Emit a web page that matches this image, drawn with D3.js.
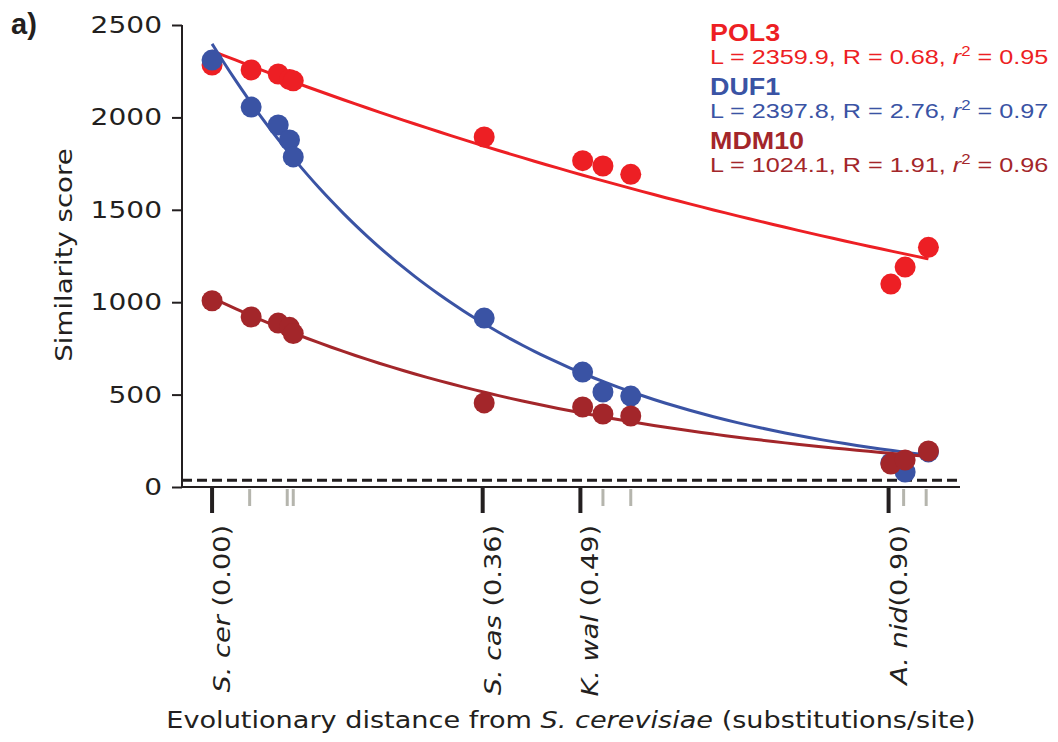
<!DOCTYPE html>
<html>
<head>
<meta charset="utf-8">
<script src="https://cdn.jsdelivr.net/npm/d3@7"></script>
<style>
  body { margin: 0; background: #fff; }
  svg { display: block; }
</style>
</head>
<body>
<div id="chart"></div>
<script>
// distances (substitutions/site) of the sampled species
let pointDist = [0, 0.052, 0.088, 0.103, 0.108, 0.362, 0.493, 0.52, 0.557, 0.903, 0.922, 0.953]

let genes = ["POL3", "DUF1", "MDM10"]
let geneColors = ["#ed1f24", "#3a53a4", "#a3262a"]
let fitL = [2359.9, 2397.8, 1024.1]
let fitR = [0.68, 2.76, 1.91]
let fitR2 = [0.95, 0.97, 0.96]

let pol3 = [2283, 2257, 2235, 2205, 2198, 1894, 1766, 1737, 1692, 1098, 1190, 1297]
let duf1 = [2310, 2056, 1959, 1878, 1786, 914, 622, 514, 492, 130, 81, 190]
let mdm10 = [1008, 920, 887, 864, 830, 455, 433, 395, 384, 124, 146, 195]
let series = [pol3, duf1, mdm10]

let majorNames = ["S. cer", "S. cas", "K. wal", "A. nid"]
let majorDist = [0, 0.36, 0.49, 0.90]
let minorDist = [0.05, 0.10, 0.108, 0.52, 0.557, 0.92, 0.95]
let yTicks = [0, 500, 1000, 1500, 2000, 2500]
let cutoff = 37

const W = 1058, H = 742
const stretch = 1.2
const font = "'DejaVu Sans', sans-serif"
const sans = "'Liberation Sans', Arial, sans-serif"

let svg = d3.select('#chart').append('svg')
    .attr('width', W)
    .attr('height', H)

let x = d3.scaleLinear().domain([-0.04, 0.995]).range([182, 960])
let y = d3.scaleLinear().domain([0, 2500]).range([487, 25])

// panel label
svg.append('text')
    .attr('x', 11).attr('y', 34)
    .attr('font-family', sans).attr('font-weight', 'bold')
    .attr('font-size', 29).attr('fill', '#231f20')
    .text('a)')

// y axis
let yAxis = svg.append('g')
    .attr('transform', `translate(${x.range()[0]},0)`)
    .call(d3.axisLeft(y).tickValues(yTicks).tickSize(10).tickFormat(''))
yAxis.select('.domain').attr('stroke', '#231f20').attr('stroke-width', 2)
    .attr('d', `M0,${y(2500)}V${y(0) + 1}`)
yAxis.selectAll('.tick line').attr('stroke', '#231f20').attr('stroke-width', 2)

yTicks.forEach(v => {
    svg.append('g')
        .attr('transform', `translate(162,${y(v) + 8}) scale(1.22,1)`)
        .append('text')
        .attr('text-anchor', 'end')
        .attr('font-family', font).attr('font-size', 23)
        .attr('fill', '#231f20')
        .text(v)
})

svg.append('g')
    .attr('transform', `translate(72,255) rotate(-90) scale(${stretch},1)`)
    .append('text')
    .attr('text-anchor', 'middle')
    .attr('font-family', font).attr('font-size', 23)
    .attr('fill', '#231f20')
    .text('Similarity score')

// x spine
svg.append('line')
    .attr('x1', x.range()[0]).attr('x2', x.range()[1])
    .attr('y1', y(0)).attr('y2', y(0))
    .attr('stroke', '#231f20').attr('stroke-width', 2)

// cutoff line
svg.append('line')
    .attr('x1', x.range()[0]).attr('x2', x.range()[1])
    .attr('y1', y(cutoff)).attr('y2', y(cutoff))
    .attr('stroke', '#231f20').attr('stroke-width', 3)
    .attr('stroke-dasharray', '10,5')

// species ticks
svg.selectAll('.minor')
    .data(minorDist).enter()
    .append('line')
    .attr('class', 'minor')
    .attr('x1', d => x(d)).attr('x2', d => x(d))
    .attr('y1', y(0) + 2).attr('y2', y(0) + 19)
    .attr('stroke', '#b5b5ad').attr('stroke-width', 3)

svg.selectAll('.major')
    .data(majorDist).enter()
    .append('line')
    .attr('class', 'major')
    .attr('x1', d => x(d)).attr('x2', d => x(d))
    .attr('y1', y(0) + 1).attr('y2', y(0) + 26)
    .attr('stroke', '#231f20').attr('stroke-width', 4)

majorDist.forEach((d, i) => {
    let t = svg.append('g')
        .attr('transform', `translate(${x(d) + 18},525) rotate(-90) scale(1.18,1)`)
        .append('text')
        .attr('text-anchor', 'end')
        .attr('font-family', font).attr('font-size', 23)
        .attr('fill', '#231f20')
    t.append('tspan').attr('font-style', 'italic').text(majorNames[i])
    t.append('tspan').text((i == 3 ? '(' : ' (') + d.toFixed(2) + ')')
})

let xl = svg.append('g')
    .attr('transform', `translate(571,728) scale(1.18,1)`)
    .append('text')
    .attr('text-anchor', 'middle')
    .attr('font-family', font).attr('font-size', 23)
    .attr('fill', '#231f20')
xl.append('tspan').text('Evolutionary distance from ')
xl.append('tspan').attr('font-style', 'italic').text('S. cerevisiae')
xl.append('tspan').text(' (substitutions/site)')

// fitted decay curves and points
let line = d3.line().x(d => x(d[0])).y(d => y(d[1])).curve(d3.curveBasis)

series.forEach((vals, k) => {
    let dMax = d3.max(pointDist)
    let curve = d3.range(0, 61).map(j => {
        let d = dMax * j / 60
        return [d, fitL[k] * Math.exp(-fitR[k] * d)]
    })
    svg.append('path')
        .datum(curve)
        .attr('d', line)
        .attr('fill', 'none')
        .attr('stroke', geneColors[k])
        .attr('stroke-width', 3)

    svg.append('g').selectAll('circle')
        .data(vals).enter()
        .append('circle')
        .attr('cx', (d, i) => x(pointDist[i]))
        .attr('cy', d => y(d))
        .attr('r', 10.5)
        .attr('fill', geneColors[k])
})

// legend
genes.forEach((g, k) => {
    let base = 41 + k * 54
    svg.append('g')
        .attr('transform', `translate(710,${base}) scale(1.12,1)`)
        .append('text')
        .attr('font-family', sans).attr('font-weight', 'bold')
        .attr('font-size', 24).attr('fill', geneColors[k])
        .text(g)
    let t = svg.append('g')
        .attr('transform', `translate(710,${base + 23}) scale(${stretch},1)`)
        .append('text')
        .attr('font-family', sans)
        .attr('font-size', 21).attr('fill', geneColors[k])
    t.append('tspan').text(`L = ${fitL[k].toFixed(1)}, R = ${fitR[k].toFixed(2)}, `)
    t.append('tspan').attr('font-style', 'italic').text('r')
    t.append('tspan').attr('font-size', 14).attr('dy', -8).text('2')
    t.append('tspan').attr('dy', 8).text(` = ${fitR2[k].toFixed(2)}`)
})
</script>
</body>
</html>
